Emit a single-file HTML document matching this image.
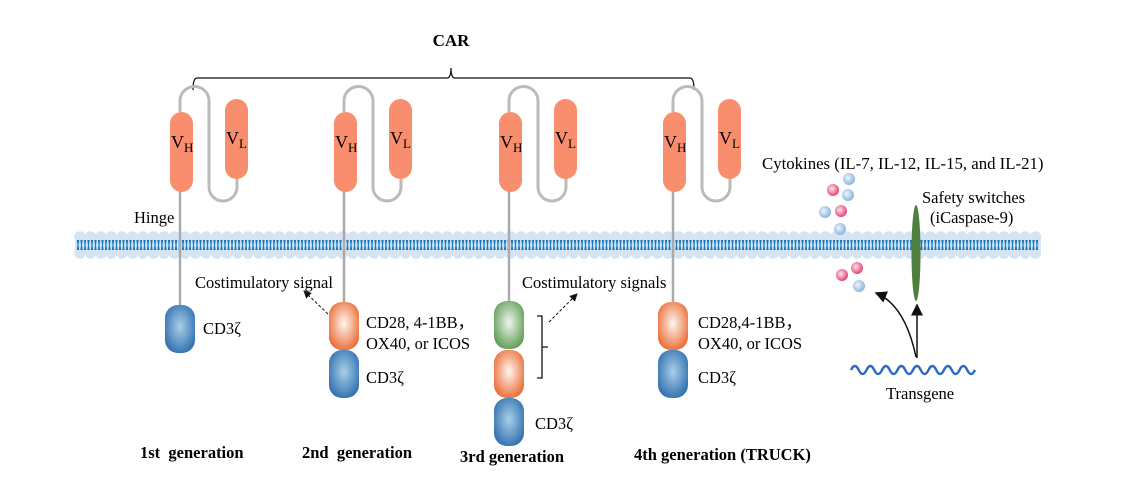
<!DOCTYPE html>
<html><head><meta charset="utf-8"><style>
html,body{margin:0;padding:0;background:#fff;}
svg{display:block;font-family:"Liberation Serif",serif;}
text{white-space:pre;}
</style></head><body>
<svg id="d" width="1125" height="481" viewBox="0 0 1125 481">
<defs>
<radialGradient id="gb" cx="0.5" cy="0.45" r="0.6"><stop offset="0" stop-color="#a9cfe8"/><stop offset="1" stop-color="#2f6fae"/></radialGradient>
<radialGradient id="go" cx="0.5" cy="0.45" r="0.6"><stop offset="0" stop-color="#fff6f0"/><stop offset="1" stop-color="#ea6a34"/></radialGradient>
<radialGradient id="gg" cx="0.5" cy="0.45" r="0.6"><stop offset="0" stop-color="#eef6ea"/><stop offset="1" stop-color="#5f9a55"/></radialGradient>
<radialGradient id="cb" cx="0.4" cy="0.4" r="0.6"><stop offset="0" stop-color="#eef5fb"/><stop offset="1" stop-color="#8ab7df"/></radialGradient>
<radialGradient id="cp" cx="0.4" cy="0.4" r="0.6"><stop offset="0" stop-color="#fde4ec"/><stop offset="1" stop-color="#e54677"/></radialGradient>
<marker id="ah" markerWidth="8" markerHeight="8" refX="7" refY="4" orient="auto"><path d="M0,0 L8,4 L0,8 z" fill="#111"/></marker>
</defs>
<g id="mem"></g>
<text x="451" y="46" font-size="17" font-weight="bold" text-anchor="middle">CAR</text>
<path d="M193,90 Q193,78 197,78 L447,78 Q451,78 451,68 Q451,78 455,78 L690,78 Q694,78 694,90" fill="none" stroke="#111" stroke-width="1.3"/>
<g id="units"></g>
<text x="134" y="223" font-size="16.5">Hinge</text>
<text x="195" y="288" font-size="16.5">Costimulatory signal</text>
<line x1="328" y1="314" x2="304" y2="291" stroke="#111" stroke-dasharray="3,2" marker-end="url(#ah)"/>
<text x="522" y="288" font-size="16.5">Costimulatory signals</text>
<line x1="549" y1="322" x2="577" y2="294" stroke="#111" stroke-dasharray="3,2" marker-end="url(#ah)"/>
<path d="M537,316 L542,316 L542,378 L537,378 M542,347 L548,347" fill="none" stroke="#111" stroke-width="1.3"/>
<text x="203" y="334" font-size="16.5">CD3ζ</text>
<text x="366" y="328" font-size="16.5">CD28, 4-1BB，</text>
<text x="366" y="349" font-size="16.5">OX40, or ICOS</text>
<text x="366" y="383" font-size="16.5">CD3ζ</text>
<text x="535" y="429" font-size="16.5">CD3ζ</text>
<text x="698" y="328" font-size="16.5">CD28,4-1BB，</text>
<text x="698" y="349" font-size="16.5">OX40, or ICOS</text>
<text x="698" y="383" font-size="16.5">CD3ζ</text>
<text x="140" y="458" font-size="16.5" font-weight="bold">1st  generation</text>
<text x="302" y="458" font-size="16.5" font-weight="bold">2nd  generation</text>
<text x="460" y="462" font-size="16.5" font-weight="bold">3rd generation</text>
<text x="634" y="460" font-size="16.5" font-weight="bold">4th generation (TRUCK)</text>
<text x="762" y="169" font-size="16.8">Cytokines (IL-7, IL-12, IL-15, and IL-21)</text>
<text x="922" y="203" font-size="16.5">Safety switches</text>
<text x="930" y="223" font-size="16.5">(iCaspase-9)</text>
<g id="cyt"></g>
<ellipse cx="916" cy="253" rx="4.5" ry="48" fill="#4f7f3f"/>
<path d="M917,358 L917,305" stroke="#111" stroke-width="1.5" marker-end="url(#ah)"/>
<path d="M916,357 Q905,305 876,293" fill="none" stroke="#111" stroke-width="1.5" marker-end="url(#ah)"/>
<path id="wave" fill="none" stroke="#2a6cc4" stroke-width="2.5"/>
<text x="886" y="399" font-size="16.5">Transgene</text>
</svg>
<script>
const NS="http://www.w3.org/2000/svg";
function mk(t,a,p){const e=document.createElementNS(NS,t);for(const k in a)e.setAttribute(k,a[k]);p.appendChild(e);return e;}
const mem=document.getElementById('mem');
mk('rect',{x:75,y:237,width:966,height:16,fill:'#d6e4f2'},mem);
for(let x=80;x<=1036;x+=10.5){
  mk('circle',{cx:x,cy:237,r:5.8,fill:'#d6e4f2'},mem);
  mk('circle',{cx:x,cy:253,r:5.8,fill:'#d6e4f2'},mem);
}
for(let x=78;x<=1038;x+=3.5){
  mk('path',{d:`M${x-1.2},240 L${x+1.2},240 L${x+0.5},245 L${x+1.2},250 L${x-1.2},250 L${x-0.5},245 z`,fill:'#1a78bd'},mem);
}
const stems=[180,344,509,673];
const domains=[[['gb',305]],[['go',302],['gb',350]],[['gg',301],['go',350],['gb',398]],[['go',302],['gb',350]]];
const units=document.getElementById('units');
stems.forEach((s,i)=>{
  const g=mk('g',{},units);
  
  
  mk('line',{x1:s,y1:190,x2:s,y2:domains[i][0][1]+2,stroke:'#aaa','stroke-width':2.5},g);
  mk('path',{d:`M${s},112 L${s},101 A14.5,14.5 0 0 1 ${s+29},101 L${s+29},187 A14,14 0 0 0 ${s+57},187 L${s+57},178`,fill:'none',stroke:'#bbb','stroke-width':3},g);
  const vh=mk('rect',{x:s-10,y:112,width:23,height:80,rx:11.5,fill:'#f98e6e'},g);
  
  
  const vl=mk('rect',{x:s+45,y:99,width:23,height:80,rx:11.5,fill:'#f98e6e'},g);
  
  
  let t=mk('text',{x:s-9,y:148,'font-size':18},g);t.innerHTML='V<tspan font-size="13" dy="4">H</tspan>';
  t=mk('text',{x:s+46,y:144,'font-size':18},g);t.innerHTML='V<tspan font-size="13" dy="4">L</tspan>';
  domains[i].forEach(d=>{
    const r=mk('rect',{x:s-15,y:d[1],width:30,height:48,rx:13,fill:'url(#'+d[0]+')'},g);
    
    
  });
});
const cyt=[['cb',849,179],['cp',833,190],['cb',848,195],['cb',825,212],['cp',841,211],['cb',840,229],['cp',857,268],['cp',842,275],['cb',859,286]];
const cg=document.getElementById('cyt');
cyt.forEach(c=>{
  const e=mk('circle',{cx:c[1],cy:c[2],r:6,fill:'url(#'+c[0]+')'},cg);
  
  
});
let d='M851,370';
for(let i=0;i<8;i++){const x=851+i*15.5;d+=` Q${x+3.9},362 ${x+7.75},370 Q${x+11.6},378 ${x+15.5},370`;}
document.getElementById('wave').setAttribute('d',d);
</script>
</body></html>
